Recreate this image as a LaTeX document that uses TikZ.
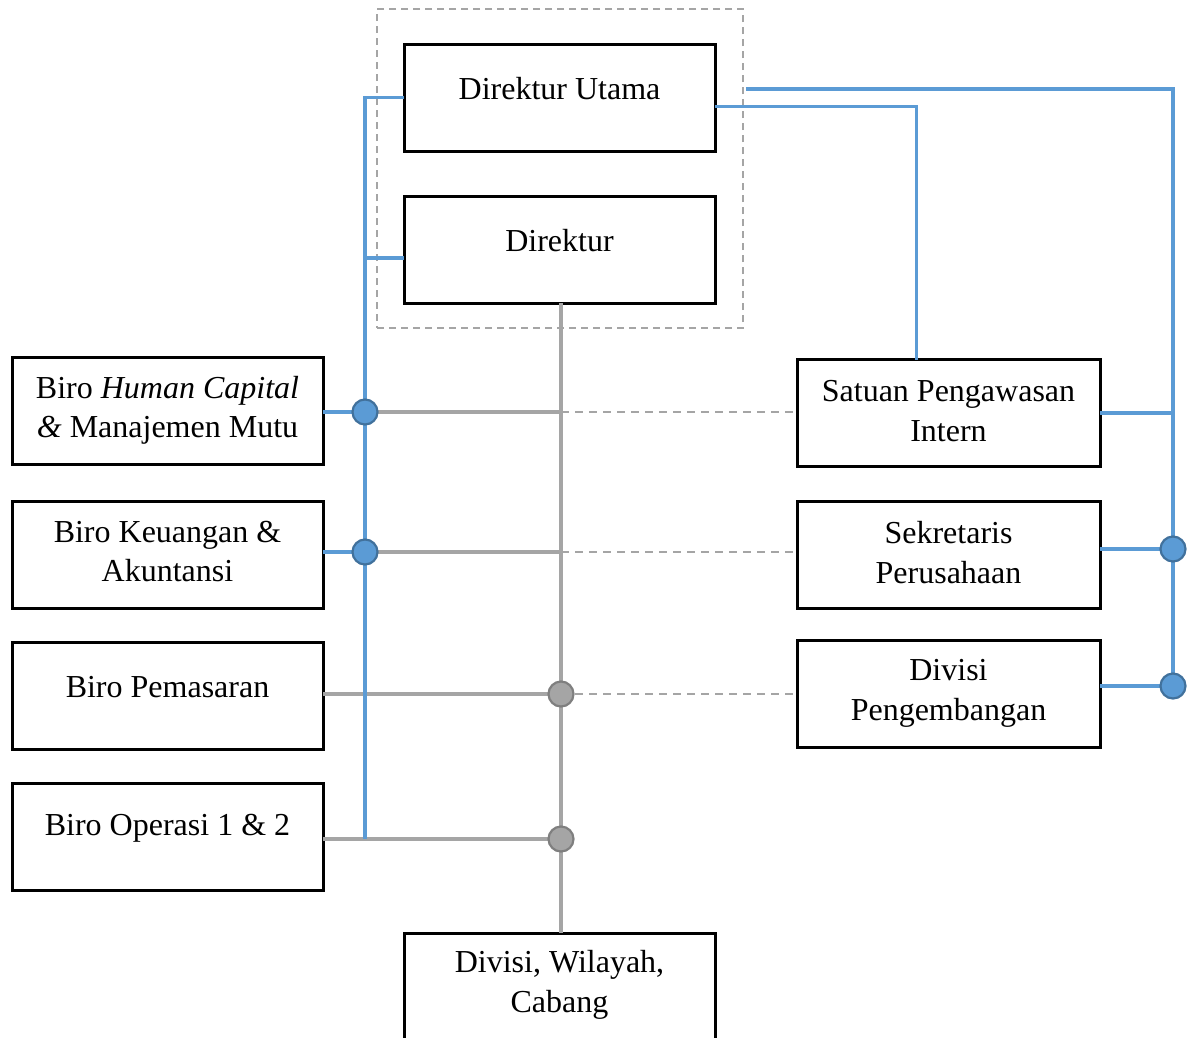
\documentclass[tikz,border=0pt]{standalone}
\usepackage{fontspec}
\setmainfont{Liberation Serif}
\usetikzlibrary{fit}
\definecolor{cblue}{HTML}{5B9BD5}
\definecolor{cbluedark}{HTML}{41719C}
\definecolor{cgray}{HTML}{A5A5A5}
\definecolor{cgraydark}{HTML}{7F7F7F}
\begin{document}
\begin{tikzpicture}[x=1pt,y=-1pt,
  box/.style={draw=black,line width=3pt,fill=white,minimum width=311pt,minimum height=107pt,inner sep=0pt,outer sep=0pt},
  rbox/.style={box,minimum width=303pt},
  lbl/.style={font=\fontsize{32}{39.5}\selectfont,align=center,inner sep=0pt},
  bline/.style={draw=cblue,line width=3.5pt},
  gline/.style={draw=cgray,line width=3.5pt},
  dline/.style={draw=cgray,line width=2.2pt,dash pattern=on 8pt off 6pt},
  bdot/.style={circle,fill=cblue,draw=cbluedark,line width=2.2pt,minimum size=25pt,inner sep=0pt},
  gdot/.style={circle,fill=cgray,draw=cgraydark,line width=2.2pt,minimum size=25pt,inner sep=0pt}
]
\clip (0,0) rectangle (1188,1037);
\fill[white] (0,0) rectangle (1188,1037);

% group dashed box
\node[draw=cgray,line width=1.8pt,dash pattern=on 7pt off 5pt,minimum width=366pt,minimum height=319pt,inner sep=0pt] (grp) at (560,168.5) {};

% top boxes
\node[box] (du) at (559.5,97.5) {};
\node[lbl] at ([yshift=9]du.center) {Direktur Utama};
\node[box] (dir) at (559.5,249.5) {};
\node[lbl] at ([yshift=9]dir.center) {Direktur};

% left boxes
\node[box] (hc) at (167.5,410.5) {};
\node[lbl] at ([yshift=0]hc.center) {Biro \textit{Human Capital}\\\textit{\&} Manajemen Mutu};
\node[box] (keu) at (167.5,554.5) {};
\node[lbl] at ([yshift=3]keu.center) {Biro Keuangan \&\\Akuntansi};
\node[box] (pem) at (167.5,695.5) {};
\node[lbl] at ([yshift=8]pem.center) {Biro Pemasaran};
\node[box] (op) at (167.5,837) {};
\node[lbl] at ([yshift=9]op.center) {Biro Operasi 1 \& 2};

% right boxes
\node[rbox] (spi) at (948.5,413) {};
\node[lbl] at ([yshift=2]spi.center) {Satuan Pengawasan\\Intern};
\node[rbox] (sek) at (948.5,554.5) {};
\node[lbl] at ([yshift=2]sek.center) {Sekretaris\\Perusahaan};
\node[rbox] (dp) at (948.5,693.5) {};
\node[lbl] at ([yshift=0]dp.center) {Divisi\\Pengembangan};

% bottom box
\node[box] (dwc) at (559.5,986.5) {};
\node[lbl] at (559.5,985) {Divisi, Wilayah,\\Cabang};

% coordinates
\coordinate (busTop) at (365,97.5);
\coordinate (busDir) at (365,258);
\coordinate (busBot) at (365,839);
\coordinate (jHC) at (561,412);
\coordinate (jKeu) at (561,552);
\coordinate (rTop) at (1173,89);
\coordinate (rSpi) at (1173,413);
\coordinate (rBot) at (1173,686);

% gray trunk
\draw[gline] (dir.south -| 561,0) -- (dwc.north -| 561,0);

% dashed lines
\draw[dline] (jHC) -- (spi.west |- jHC);
\draw[dline] (jKeu) -- (sek.west |- jKeu);
\draw[dline] (561,694) -- (dp.west |- 561,694);

% gray horizontal connectors
\draw[gline] (365,412) -- (jHC);
\draw[gline] (365,552) -- (jKeu);
\draw[gline] (pem.east |- 0,694) -- (561,694);
\draw[gline] (op.east |- busBot) -- (561,839);

% blue left bus
\draw[bline] (du.west) -- (busTop) -- (busBot);
\draw[bline] (dir.west |- busDir) -- (busDir);
\draw[bline] (hc.east |- 0,412) -- (365,412);
\draw[bline] (keu.east |- 0,552) -- (365,552);

% blue right
\draw[bline] ([yshift=-9]du.east) -| ([xshift=-32]spi.north);
\draw[bline] (grp.east |- rTop) ++(2,0) -- (rTop) -- (rBot);
\draw[bline] (spi.east |- rSpi) -- (rSpi);
\draw[bline] (sek.east |- 0,549) -- (1173,549);
\draw[bline] (dp.east |- rBot) -- (rBot);

% dots
\node[bdot] (dHC) at (365,412) {};
\node[bdot] (dKeu) at (365,552) {};
\node[gdot] (dPem) at (561,694) {};
\node[gdot] (dOp) at (561,839) {};
\node[bdot] (dSek) at (1173,549) {};
\node[bdot] (dDp) at (1173,686) {};
\end{tikzpicture}
\end{document}
